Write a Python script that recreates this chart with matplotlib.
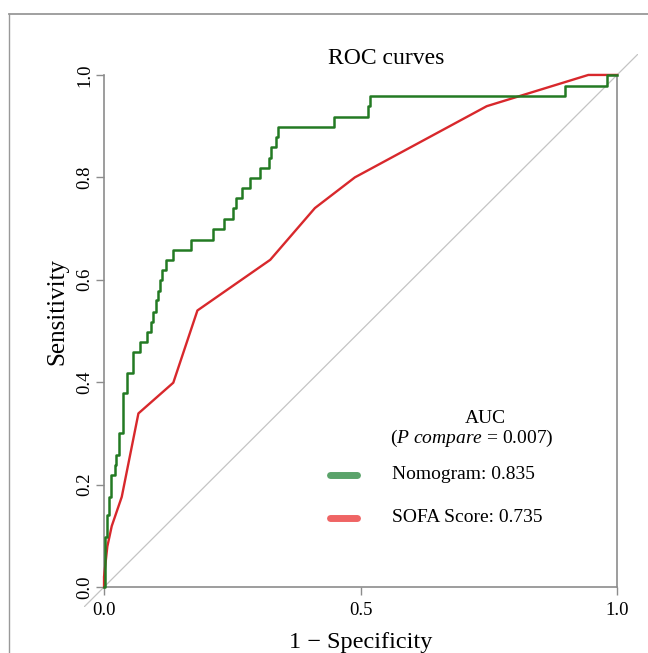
import matplotlib
matplotlib.use("Agg")
import matplotlib.pyplot as plt
from matplotlib.lines import Line2D

plt.rcParams['font.family'] = ['Liberation Serif', 'DejaVu Serif']
plt.rcParams['mathtext.fontset'] = 'custom'
plt.rcParams['mathtext.rm'] = 'Liberation Serif'
plt.rcParams['mathtext.it'] = 'Liberation Serif:italic'

# ---- data ----
nomo_fpr = [0.0, 0.002, 0.005, 0.010, 0.013, 0.021, 0.023, 0.030, 0.036, 0.044,
            0.057, 0.070, 0.083, 0.091, 0.096, 0.101, 0.106, 0.109, 0.113, 0.120,
            0.135, 0.169, 0.213, 0.234, 0.252, 0.257, 0.268, 0.285, 0.304, 0.322,
            0.325, 0.335, 0.340, 0.449, 0.515, 0.518, 0.899, 0.981, 1.0]
nomo_tpr = [0.0, 0.098, 0.141, 0.176, 0.219, 0.238, 0.258, 0.301, 0.379, 0.418,
            0.459, 0.479, 0.498, 0.518, 0.537, 0.561, 0.578, 0.600, 0.619, 0.639,
            0.658, 0.678, 0.699, 0.719, 0.740, 0.760, 0.779, 0.799, 0.818, 0.838,
            0.859, 0.879, 0.898, 0.918, 0.939, 0.959, 0.979, 1.0, 1.0]

sofa_fpr = [0.0, 0.0, 0.0064, 0.015, 0.0345, 0.067, 0.135, 0.182, 0.324, 0.411,
            0.489, 0.746, 0.944, 1.0]
sofa_tpr = [0.0, 0.020, 0.079, 0.119, 0.176, 0.339, 0.399, 0.540, 0.639, 0.740,
            0.800, 0.939, 1.0, 1.0]

ticks = [0.0, 0.5, 1.0]
yticks = [0.0, 0.2, 0.4, 0.6, 0.8, 1.0]
tick_labels = ["0.0", "0.5", "1.0"]
ytick_labels = ["0.0", "0.2", "0.4", "0.6", "0.8", "1.0"]

labels = ["Nomogram: 0.835", "SOFA Score: 0.735"]
p_compare = "0.007"

GREEN = "#237a23"
RED = "#d8282c"
AXC = "#8c8c8c"

fig = plt.figure(figsize=(6.48, 6.53), dpi=100)
ax = fig.add_axes([0.1289, 0.0697, 0.855, 0.8469])
ax.set_xlim(-0.04, 1.04)
ax.set_ylim(-0.04, 1.04)

# diagonal
ax.plot([-0.1, 1.1], [-0.1, 1.1], color="#c4c4c4", lw=0.9, zorder=1)

ax.plot(sofa_fpr, sofa_tpr, color=RED, lw=1.7, zorder=3)
ax.plot(nomo_fpr, nomo_tpr, color=GREEN, lw=1.8, drawstyle='steps-post', zorder=4)

# spines
ax.spines['top'].set_visible(False)
ax.spines['bottom'].set_position(('data', 0))
ax.spines['left'].set_position(('data', 0))
ax.spines['right'].set_position(('data', 1))
ax.spines['bottom'].set_bounds(0, 1)
ax.spines['left'].set_bounds(0, 1)
ax.spines['right'].set_bounds(0, 1)
for s in ['bottom', 'left', 'right']:
    ax.spines[s].set_color(AXC)
    ax.spines[s].set_linewidth(1.2)

ax.set_xticks(ticks)
ax.set_xticklabels(tick_labels, fontsize=13.5)
ax.set_yticks(yticks)
ax.set_yticklabels(ytick_labels, fontsize=13.5, rotation=90, va='center')
ax.tick_params(axis='both', color=AXC, length=6, width=1.0)
ax.tick_params(axis='x', pad=5)
ax.tick_params(axis='y', pad=2, right=False)

ax.set_xlabel("1 − Specificity", fontsize=17.5, labelpad=9)
ax.set_ylabel("Sensitivity", fontsize=18)
ax.yaxis.set_label_coords(-0.028, 0.535)
ax.patch.set_alpha(0)

# title
fig.text(386/648, 1 - 59/653, "ROC curves", fontsize=17, ha='center', va='center')

# legend-like annotation
ax.text(0.743, 0.330, "AUC", fontsize=14, ha='center', va='center')
ax.text(0.716, 0.291, r"($\mathit{P\ compare}$ = " + p_compare + ")", fontsize=14,
        ha='center', va='center')
ax.plot([0.4405, 0.493], [0.219, 0.219], color="#5aa36a", lw=5, solid_capstyle='round')
ax.plot([0.4405, 0.493], [0.135, 0.135], color="#ef6464", lw=5, solid_capstyle='round')
ax.text(0.561, 0.219, labels[0], fontsize=14, ha='left', va='center')
ax.text(0.561, 0.135, labels[1], fontsize=14, ha='left', va='center')

# outer frame (top and left)
fig.add_artist(Line2D([9/648, 1.0], [1 - 14/653, 1 - 14/653], transform=fig.transFigure,
                      color="#999999", lw=1.3))
fig.add_artist(Line2D([9/648, 9/648], [0.0, 1 - 14/653], transform=fig.transFigure,
                      color="#999999", lw=1.0))

fig.savefig("out.png", dpi=100)
